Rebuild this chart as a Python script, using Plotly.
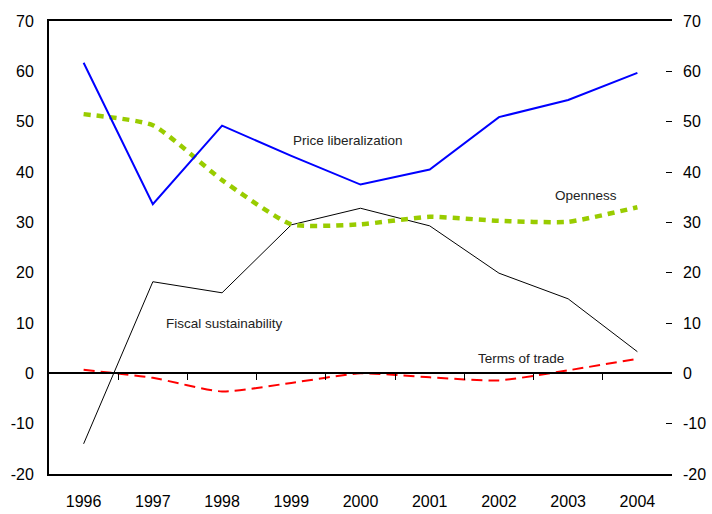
import plotly.graph_objects as go

years = ["1996", "1997", "1998", "1999", "2000", "2001", "2002", "2003", "2004"]
price_lib = [61.7, 33.6, 49.2, 43.2, 37.5, 40.5, 50.9, 54.3, 59.7]
openness = [51.5, 49.3, 38.4, 29.6, 29.6, 31.1, 30.3, 30.1, 33.0]
fiscal = [-14.0, 18.2, 16.0, 29.5, 32.8, 29.3, 19.9, 14.8, 4.3]
terms_trade = [0.7, -0.9, -3.6, -1.9, 0.0, -0.8, -1.4, 0.6, 2.9]
y_ticks = [-20, -10, 0, 10, 20, 30, 40, 50, 60, 70]
y_labels = ["-20", "-10", "0", "10", "20", "30", "40", "50", "60", "70"]

fig = go.Figure()
fig.add_trace(go.Scatter(x=years, y=fiscal, mode="lines",
                         line=dict(color="black", width=1), hoverinfo="skip"))
fig.add_trace(go.Scatter(x=years, y=terms_trade, mode="lines",
                         line=dict(color="#ff0000", width=2, dash="11px,6px", shape="spline", smoothing=0.6),
                         hoverinfo="skip"))
fig.add_trace(go.Scatter(x=years, y=openness, mode="lines",
                         line=dict(color="#99cc00", width=4.5, dash="7px,6px", shape="spline", smoothing=0.5),
                         hoverinfo="skip"))
fig.add_trace(go.Scatter(x=years, y=price_lib, mode="lines",
                         line=dict(color="#0000ff", width=2), hoverinfo="skip"))
# helper trace to show the right axis and the zero-line axis
fig.add_trace(go.Scatter(x=list(range(len(years))), y=price_lib, mode="lines", xaxis="x2", yaxis="y2",
                         line=dict(width=0), opacity=0, hoverinfo="skip", showlegend=False))

annos = [
    ("Price liberalization", 3.82, 46.2),
    ("Openness", 7.26, 35.4),
    ("Fiscal sustainability", 2.04, 10.0),
    ("Terms of trade", 6.32, 3.0),
]
for txt, xv, yv in annos:
    fig.add_annotation(x=xv, y=yv, xref="x2", yref="y", text=txt, showarrow=False,
                       font=dict(family="Liberation Sans, Arial, sans-serif", size=13.5, color="#222"))

axis_font = dict(family="Liberation Sans, Arial, sans-serif", size=16, color="black")
fig.update_layout(
    width=712, height=514,
    margin=dict(l=49, r=40, t=21, b=40, autoexpand=False),
    paper_bgcolor="white", plot_bgcolor="white",
    showlegend=False,
    xaxis=dict(type="category", range=[-0.5, 8.5], showgrid=False, zeroline=False, automargin=False,
               showline=True, linecolor="black", linewidth=2, mirror=True,
               ticks="", tickfont=axis_font, ticklabelstandoff=12),
    xaxis2=dict(overlaying="x", anchor="free", position=20/90, range=[-0.5, 8.5], automargin=False,
                tickvals=[0.5, 1.5, 2.5, 3.5, 4.5, 5.5, 6.5, 7.5], ticks="outside", ticklen=6,
                tickcolor="black", tickwidth=1, showticklabels=False, showgrid=False, zeroline=False,
                showline=True, linecolor="black", linewidth=1.5),
    yaxis=dict(range=[-20, 70], tickvals=y_ticks, ticktext=y_labels, showgrid=False, zeroline=False,
               showline=True, linecolor="black", linewidth=2, ticks="", automargin=False,
               tickfont=axis_font, ticklabelstandoff=10),
    yaxis2=dict(range=[-20, 70], tickvals=y_ticks, ticktext=y_labels, overlaying="y", side="right",
                anchor="x", automargin=False,
                showgrid=False, zeroline=False, showline=False, ticks="inside", ticklen=6,
                tickcolor="black", tickwidth=1, tickfont=axis_font, ticklabelstandoff=10),
)
fig.write_html("out.html", config={"displayModeBar": False},
               post_script="document.body.style.margin='0px';document.body.style.overflow='hidden';")
